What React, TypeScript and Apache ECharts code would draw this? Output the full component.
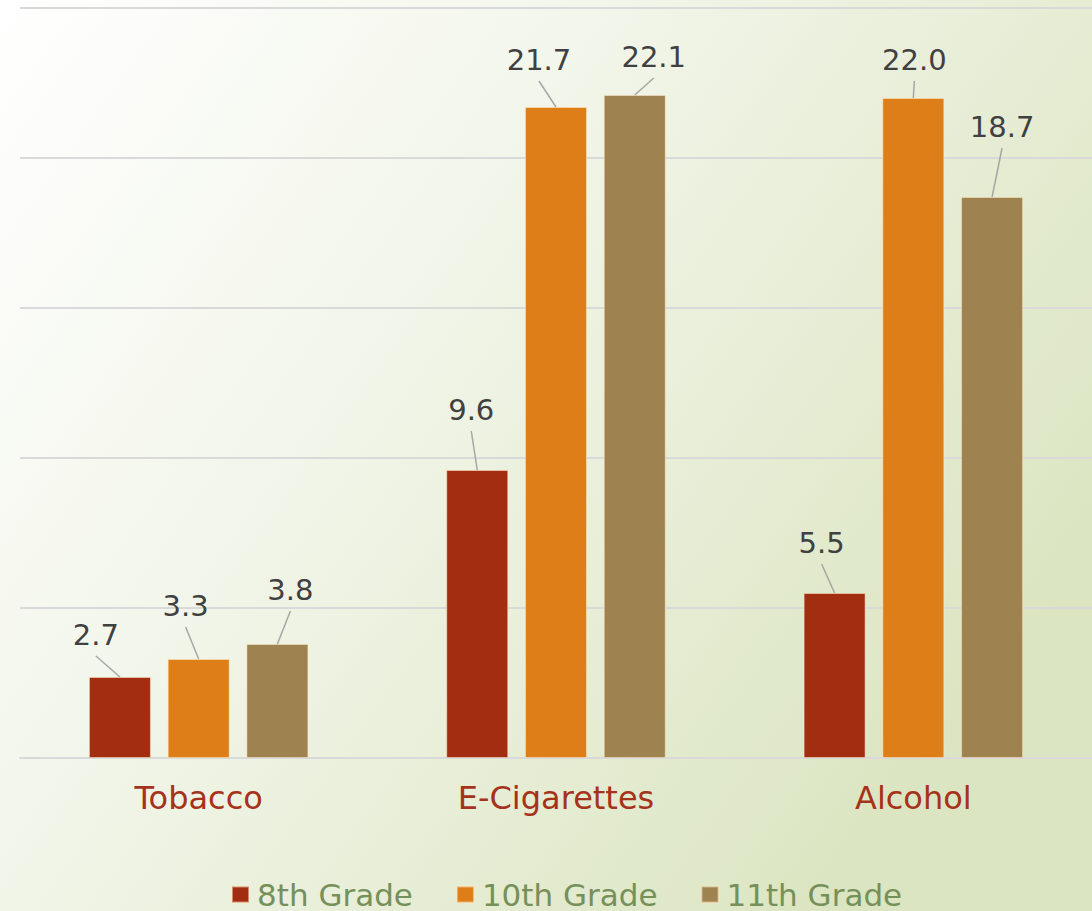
import React, { useEffect, useRef } from "react";
import * as echarts from "echarts";

const categories = ["Tobacco", "E-Cigarettes", "Alcohol"];
const seriesNames = ["8th Grade", "10th Grade", "11th Grade"];
const grade8 = [2.7, 9.6, 5.5];
const grade10 = [3.3, 21.7, 22.0];
const grade11 = [3.8, 22.1, 18.7];
const seriesColors = ["#A32D11", "#DE7E18", "#9E8250"];

// label callout offsets (style only): [dx from bar centre, lift above bar top]
const labelDx = [
  [-24, -6, -13],
  [-13, -17, 1],
  [13, 19, 10],
];
const labelLift = [
  [42, 60, 50],
  [53, 47, 38],
  [54, 38, 70],
];

const BAR_WIDTH = 62;
const BAR_GAP = 0.27;
const FONT = "'DejaVu Sans ExtraLight', 'DejaVu Sans', sans-serif";

export default function App() {
  const ref = useRef<HTMLDivElement>(null);
  useEffect(() => {
    if (!ref.current) return;
    const chart = echarts.init(ref.current, undefined, { renderer: "svg" });
    const values = [grade8, grade10, grade11];
    const leaderData: number[][] = [];
    values.forEach((arr, si) => arr.forEach((v, ci) => leaderData.push([ci, v, si])));
    chart.setOption({
      animation: false,
      backgroundColor: new echarts.graphic.LinearGradient(0, 0, 1, 0.6, [
        { offset: 0, color: "#ffffff" },
        { offset: 0.4, color: "#f3f6eb" },
        { offset: 1, color: "#dbe5c1" },
      ]),
      textStyle: { fontFamily: FONT },
      grid: { left: 20, right: 0, top: 8, bottom: 153, containLabel: false },
      legend: {
        bottom: -4,
        left: 226,
        itemWidth: 17,
        itemHeight: 16,
        itemGap: 43,
        icon: "rect",
        textStyle: { color: "#76905A", fontSize: 31, fontFamily: FONT, padding: [0, 0, 0, 3] },
        data: seriesNames,
      },
      xAxis: {
        type: "category",
        data: categories,
        axisTick: { show: false },
        axisLine: { lineStyle: { color: "#d9d9d9", width: 2 } },
        axisLabel: { color: "#A5321A", fontSize: 32, margin: 24, fontFamily: FONT },
      },
      yAxis: {
        type: "value",
        min: 0,
        max: 25,
        interval: 5,
        axisLabel: { show: false },
        axisLine: { show: false },
        axisTick: { show: false },
        splitLine: { lineStyle: { color: "#d9d9d9", width: 2 } },
      },
      series: [
        ...seriesNames.map((name, si) => ({
          name,
          type: "bar",
          data: values[si],
          barWidth: BAR_WIDTH,
          barGap: BAR_GAP * 100 + "%",
          itemStyle: { color: seriesColors[si], borderColor: "rgba(255,235,200,0.5)", borderWidth: 1 },
          label: {
            show: true,
            position: "top",
            color: "#404040",
            fontSize: 29,
            fontFamily: FONT,
            formatter: (p: any) => Number(p.value).toFixed(1),
          },
          labelLayout: (p: any) => {
            const r = p.rect;
            const cx = r.x + r.width / 2;
            return {
              x: cx + labelDx[si][p.dataIndex],
              y: r.y - labelLift[si][p.dataIndex],
              align: "center",
              verticalAlign: "middle",
            };
          },
        })),
        {
          type: "custom",
          name: "leaders",
          z: 3,
          silent: true,
          data: leaderData,
          encode: { x: 0, y: 1 },
          renderItem: (params: any, api: any) => {
            const ci = api.value(0);
            const v = api.value(1);
            const si = api.value(2);
            const top = api.coord([ci, v]);
            const cx = top[0] + (si - 1) * BAR_WIDTH * (1 + BAR_GAP);
            const lx = cx + labelDx[si][ci];
            const ly = top[1] - labelLift[si][ci];
            return {
              type: "line",
              shape: { x1: lx, y1: ly + 21, x2: cx, y2: top[1] },
              style: { stroke: "#a6a6a6", lineWidth: 1.5 },
            };
          },
        },
      ],
    });
    return () => chart.dispose();
  }, []);
  return (
    <div
      ref={ref}
      style={{ position: "absolute", left: 0, top: 0, width: 1092, height: 911 }}
    />
  );
}
